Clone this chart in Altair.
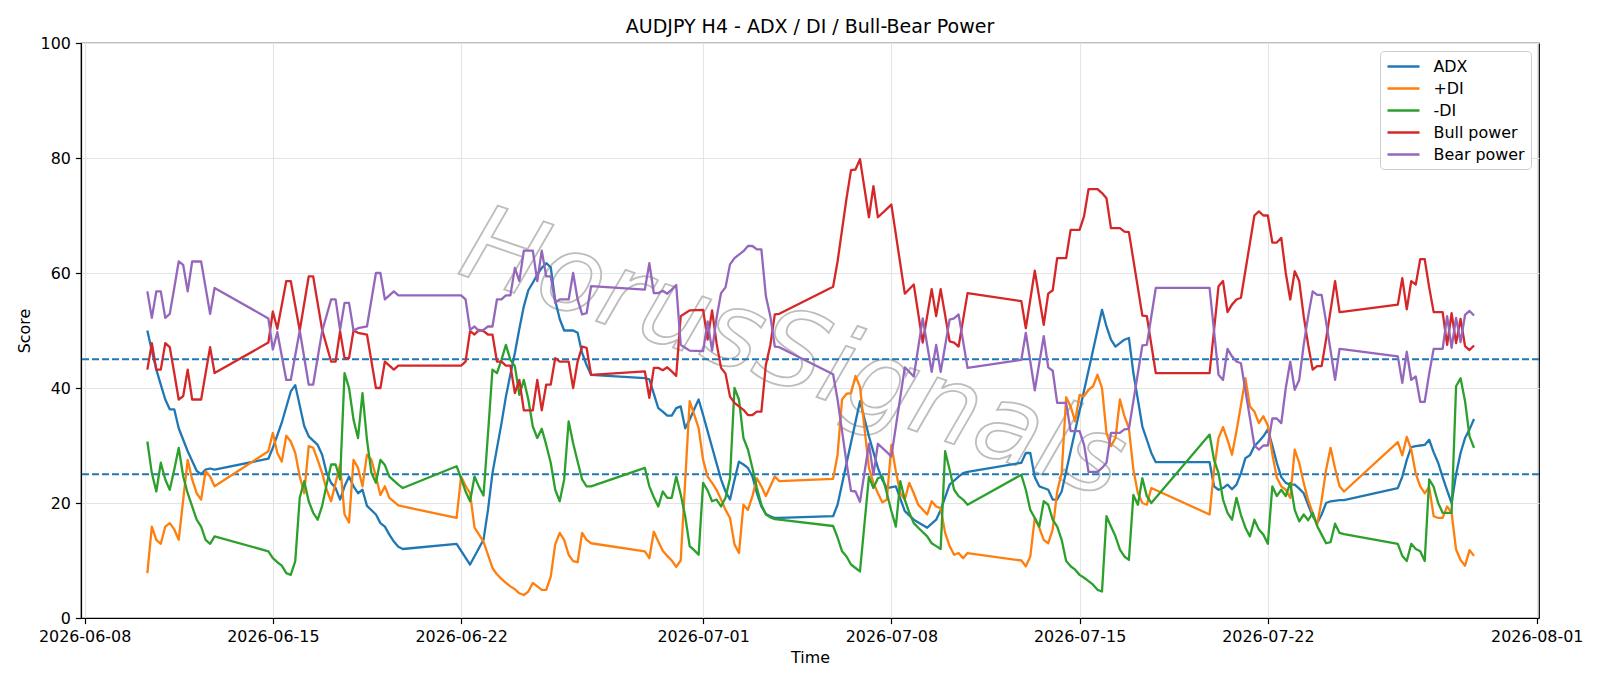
import altair as alt
import pandas as pd

# ---------- data (H4 bars, "MM-DD HH") ----------
adx_pts = [
    ("06-10 08", 50.0), ("06-10 12", 46.5), ("06-10 16", 43.2), ("06-10 20", 40.6), ("06-11 00", 38.0),
    ("06-11 04", 36.3), ("06-11 08", 36.3), ("06-11 12", 33.0), ("06-11 16", 31.0), ("06-11 20", 29.0),
    ("06-12 00", 27.3), ("06-12 04", 25.6), ("06-12 08", 25.0), ("06-12 12", 25.8), ("06-12 16", 26.0),
    ("06-12 20", 25.8), ("06-14 20", 27.7), ("06-15 00", 29.6), ("06-15 08", 34.0), ("06-15 16", 39.4),
    ("06-15 20", 40.5), ("06-16 04", 33.4), ("06-16 08", 31.6), ("06-16 16", 30.1), ("06-16 20", 28.4),
    ("06-17 00", 25.2), ("06-17 04", 23.5), ("06-17 08", 22.6), ("06-17 12", 20.6), ("06-17 16", 22.9),
    ("06-17 20", 24.6), ("06-18 00", 22.9), ("06-18 04", 21.7), ("06-18 08", 22.3), ("06-18 12", 19.5),
    ("06-18 20", 18.0), ("06-19 00", 16.5), ("06-19 04", 15.9), ("06-19 08", 14.5), ("06-19 12", 13.3),
    ("06-19 16", 12.4), ("06-19 20", 12.0), ("06-21 20", 12.9), ("06-22 08", 9.3), ("06-22 20", 13.6),
    ("06-23 00", 18.8), ("06-23 04", 25.2), ("06-23 08", 29.5), ("06-23 12", 33.8), ("06-23 16", 38.5),
    ("06-23 20", 42.4), ("06-24 00", 46.1), ("06-24 04", 50.3), ("06-24 08", 54.2), ("06-24 12", 57.0),
    ("06-24 16", 58.3), ("06-24 20", 59.7), ("06-25 00", 60.9), ("06-25 04", 61.7), ("06-25 08", 61.0),
    ("06-25 12", 55.2), ("06-25 16", 52.0), ("06-25 20", 50.0), ("06-26 04", 50.0), ("06-26 08", 49.6),
    ("06-26 12", 46.1), ("06-26 16", 44.0), ("06-26 20", 42.3), ("06-28 20", 41.7), ("06-29 00", 41.5),
    ("06-29 08", 36.5), ("06-29 12", 35.9), ("06-29 16", 35.2), ("06-29 20", 35.2), ("06-30 00", 36.5),
    ("06-30 04", 36.8), ("06-30 08", 33.0), ("06-30 12", 34.5), ("06-30 16", 36.3), ("06-30 20", 38.0),
    ("07-01 00", 35.3), ("07-01 04", 32.5), ("07-01 08", 29.7), ("07-01 12", 26.9), ("07-01 16", 24.1),
    ("07-01 20", 22.0), ("07-02 00", 20.6), ("07-02 04", 24.0), ("07-02 08", 27.2), ("07-02 12", 26.7),
    ("07-02 16", 26.1), ("07-02 20", 24.6), ("07-03 00", 21.7), ("07-03 04", 19.4), ("07-03 08", 18.1),
    ("07-03 12", 17.7), ("07-03 16", 17.4), ("07-03 20", 17.4), ("07-05 20", 17.7), ("07-06 00", 19.7),
    ("07-06 20", 37.7), ("07-07 04", 31.6), ("07-07 12", 26.1), ("07-07 16", 24.0), ("07-07 20", 22.6),
    ("07-08 04", 22.9), ("07-08 12", 18.6), ("07-08 20", 17.1), ("07-09 08", 15.7), ("07-09 16", 17.1),
    ("07-09 20", 18.8), ("07-10 04", 23.2), ("07-10 12", 24.6), ("07-10 16", 25.2), ("07-10 20", 25.4),
    ("07-12 20", 27.0), ("07-13 00", 28.7), ("07-13 04", 28.7), ("07-13 08", 24.5), ("07-13 12", 22.9),
    ("07-13 16", 22.6), ("07-13 20", 22.3), ("07-14 00", 20.6), ("07-14 04", 20.6), ("07-14 08", 22.0),
    ("07-15 20", 53.6), ("07-16 00", 50.7), ("07-16 04", 48.4), ("07-16 08", 47.2), ("07-16 12", 47.8),
    ("07-16 16", 48.4), ("07-16 20", 48.7), ("07-17 00", 42.6), ("07-17 04", 38.0), ("07-17 08", 33.3),
    ("07-17 12", 31.0), ("07-17 16", 28.7), ("07-17 20", 27.1), ("07-19 20", 27.1), ("07-20 00", 22.9),
    ("07-20 04", 22.3), ("07-20 08", 22.6), ("07-20 12", 23.2), ("07-20 16", 22.4), ("07-20 20", 23.2),
    ("07-21 00", 25.2), ("07-21 04", 27.8), ("07-21 08", 28.3), ("07-21 12", 29.9), ("07-21 16", 30.7),
    ("07-21 20", 31.6), ("07-22 00", 32.8), ("07-22 04", 30.0), ("07-22 08", 27.0), ("07-22 12", 24.5),
    ("07-22 16", 23.5), ("07-22 20", 23.2), ("07-23 00", 23.2), ("07-23 04", 22.5), ("07-23 08", 21.7),
    ("07-23 12", 19.7), ("07-23 16", 17.7), ("07-23 20", 16.5), ("07-24 00", 18.0), ("07-24 04", 20.0),
    ("07-24 08", 20.3), ("07-24 16", 20.5), ("07-24 20", 20.5), ("07-26 20", 22.6), ("07-27 00", 24.6),
    ("07-27 04", 27.5), ("07-27 08", 29.7), ("07-27 12", 29.9), ("07-27 16", 30.0), ("07-27 20", 30.1),
    ("07-28 00", 31.0), ("07-28 04", 28.8), ("07-28 08", 27.0), ("07-28 12", 24.5), ("07-28 16", 22.2),
    ("07-28 20", 20.0), ("07-29 00", 25.0), ("07-29 04", 28.7), ("07-29 08", 31.3), ("07-29 12", 32.8),
    ("07-29 16", 34.6),
]

pdi_pts = [
    ("06-10 08", 7.8), ("06-10 12", 15.9), ("06-10 16", 13.6), ("06-10 20", 12.9), ("06-11 00", 15.9),
    ("06-11 04", 16.5), ("06-11 08", 15.4), ("06-11 12", 13.6), ("06-11 20", 27.5), ("06-12 00", 24.1),
    ("06-12 04", 21.7), ("06-12 08", 20.6), ("06-12 12", 25.5), ("06-12 16", 24.6), ("06-12 20", 22.9),
    ("06-14 20", 29.0), ("06-15 00", 32.2), ("06-15 04", 28.7), ("06-15 08", 27.2), ("06-15 12", 31.7),
    ("06-15 16", 30.7), ("06-15 20", 28.7), ("06-16 00", 24.6), ("06-16 04", 21.7), ("06-16 08", 29.9),
    ("06-16 12", 29.6), ("06-16 16", 27.5), ("06-16 20", 25.2), ("06-17 00", 22.3), ("06-17 04", 20.3),
    ("06-17 08", 23.5), ("06-17 12", 26.7), ("06-17 16", 18.0), ("06-17 20", 16.6), ("06-18 00", 27.5),
    ("06-18 04", 26.1), ("06-18 08", 22.9), ("06-18 12", 28.4), ("06-18 16", 27.5), ("06-18 20", 24.6),
    ("06-19 00", 21.4), ("06-19 04", 22.9), ("06-19 08", 20.9), ("06-19 16", 19.6), ("06-19 20", 19.4),
    ("06-21 20", 17.4), ("06-22 00", 24.6), ("06-22 04", 23.0), ("06-22 08", 21.7), ("06-22 12", 15.7),
    ("06-22 16", 14.5), ("06-22 20", 13.3), ("06-23 00", 11.0), ("06-23 04", 8.7), ("06-23 08", 7.6),
    ("06-23 12", 6.8), ("06-23 16", 6.1), ("06-23 20", 5.5), ("06-24 00", 5.0), ("06-24 04", 4.3),
    ("06-24 08", 4.0), ("06-24 12", 4.6), ("06-24 16", 6.1), ("06-24 20", 5.5), ("06-25 00", 4.9),
    ("06-25 04", 4.9), ("06-25 08", 7.2), ("06-25 12", 12.8), ("06-25 16", 14.8), ("06-25 20", 13.6),
    ("06-26 00", 11.0), ("06-26 04", 9.9), ("06-26 08", 9.7), ("06-26 12", 14.8), ("06-26 16", 13.6),
    ("06-26 20", 13.0), ("06-28 20", 11.6), ("06-29 00", 10.4), ("06-29 04", 15.0), ("06-29 08", 13.3),
    ("06-29 12", 11.7), ("06-29 16", 10.8), ("06-29 20", 10.0), ("06-30 00", 8.9), ("06-30 04", 10.0),
    ("06-30 12", 37.7), ("06-30 16", 35.4), ("06-30 20", 33.0), ("07-01 00", 27.5), ("07-01 04", 24.6),
    ("07-01 08", 23.5), ("07-01 12", 22.3), ("07-01 16", 20.6), ("07-01 20", 18.8), ("07-02 00", 17.4),
    ("07-02 04", 12.8), ("07-02 08", 11.3), ("07-02 12", 19.7), ("07-02 16", 18.8), ("07-02 20", 21.2),
    ("07-03 00", 24.3), ("07-03 04", 22.9), ("07-03 08", 21.2), ("07-03 12", 22.9), ("07-03 16", 24.6),
    ("07-03 20", 23.8), ("07-05 20", 24.2), ("07-06 00", 28.4), ("07-06 04", 38.0), ("07-06 08", 39.0),
    ("07-06 12", 39.1), ("07-06 16", 42.1), ("07-06 20", 40.2), ("07-07 00", 33.0), ("07-07 04", 26.1),
    ("07-07 08", 23.5), ("07-07 12", 21.7), ("07-07 16", 20.1), ("07-07 20", 20.6), ("07-08 00", 30.1),
    ("07-08 04", 25.5), ("07-08 08", 21.7), ("07-08 12", 20.6), ("07-08 16", 23.5), ("07-08 20", 21.7),
    ("07-09 00", 19.7), ("07-09 08", 18.0), ("07-09 12", 20.3), ("07-09 16", 19.4), ("07-09 20", 19.1),
    ("07-10 00", 14.8), ("07-10 04", 12.5), ("07-10 08", 11.0), ("07-10 12", 11.3), ("07-10 16", 10.4),
    ("07-10 20", 11.3), ("07-12 20", 10.0), ("07-13 00", 9.0), ("07-13 04", 10.7), ("07-13 08", 17.4),
    ("07-13 12", 15.7), ("07-13 16", 13.6), ("07-13 20", 13.0), ("07-14 00", 15.4), ("07-14 04", 22.0),
    ("07-14 08", 25.2), ("07-14 12", 38.4), ("07-14 16", 36.8), ("07-14 20", 34.2), ("07-15 00", 38.8),
    ("07-15 04", 38.6), ("07-15 08", 39.7), ("07-15 12", 40.3), ("07-15 16", 42.3), ("07-15 20", 40.0),
    ("07-16 00", 32.2), ("07-16 04", 29.9), ("07-16 08", 31.3), ("07-16 12", 38.0), ("07-16 16", 35.1),
    ("07-16 20", 33.0), ("07-17 00", 25.8), ("07-17 04", 21.7), ("07-17 08", 20.0), ("07-17 12", 19.7),
    ("07-17 16", 22.6), ("07-19 20", 18.0), ("07-20 00", 25.8), ("07-20 04", 31.3), ("07-20 08", 33.2),
    ("07-20 12", 31.0), ("07-20 16", 28.4), ("07-20 20", 32.5), ("07-21 00", 37.0), ("07-21 04", 41.7),
    ("07-21 08", 36.8), ("07-21 12", 35.9), ("07-21 16", 33.9), ("07-21 20", 35.1), ("07-22 00", 33.5),
    ("07-22 04", 28.5), ("07-22 08", 24.4), ("07-22 12", 22.9), ("07-22 16", 22.3), ("07-22 20", 20.9),
    ("07-23 00", 29.3), ("07-23 04", 27.0), ("07-23 08", 23.5), ("07-23 12", 20.5), ("07-23 16", 18.3),
    ("07-23 20", 16.2), ("07-24 00", 20.5), ("07-24 04", 25.8), ("07-24 08", 29.6), ("07-24 12", 26.0),
    ("07-24 16", 22.9), ("07-24 20", 22.0), ("07-26 20", 30.6), ("07-27 00", 28.3), ("07-27 04", 31.5),
    ("07-27 08", 29.3), ("07-27 12", 25.1), ("07-27 16", 22.9), ("07-27 20", 21.7), ("07-28 00", 22.8),
    ("07-28 04", 17.7), ("07-28 08", 17.4), ("07-28 12", 17.4), ("07-28 16", 19.4), ("07-28 20", 18.3),
    ("07-29 00", 11.9), ("07-29 04", 10.1), ("07-29 08", 9.1), ("07-29 12", 11.8), ("07-29 16", 10.8),
]

mdi_pts = [
    ("06-10 08", 30.7), ("06-10 12", 25.2), ("06-10 16", 22.0), ("06-10 20", 27.0), ("06-11 00", 24.1),
    ("06-11 04", 22.3), ("06-11 08", 25.8), ("06-11 12", 29.6), ("06-11 16", 24.6), ("06-11 20", 21.7),
    ("06-12 00", 19.4), ("06-12 04", 17.1), ("06-12 08", 15.9), ("06-12 12", 13.6), ("06-12 16", 12.9),
    ("06-12 20", 14.2), ("06-14 20", 11.6), ("06-15 00", 10.4), ("06-15 04", 9.7), ("06-15 08", 9.1),
    ("06-15 12", 7.8), ("06-15 16", 7.5), ("06-15 20", 9.9), ("06-16 00", 20.9), ("06-16 04", 23.8),
    ("06-16 08", 20.3), ("06-16 12", 18.3), ("06-16 16", 17.1), ("06-16 20", 19.5), ("06-17 00", 23.2),
    ("06-17 04", 26.7), ("06-17 08", 26.7), ("06-17 12", 24.1), ("06-17 16", 42.6), ("06-17 20", 40.0),
    ("06-18 00", 34.5), ("06-18 04", 31.3), ("06-18 08", 39.1), ("06-18 12", 31.0), ("06-18 16", 25.2),
    ("06-18 20", 23.5), ("06-19 00", 27.5), ("06-19 04", 26.6), ("06-19 08", 24.6), ("06-19 12", 23.9),
    ("06-19 16", 23.2), ("06-19 20", 22.6), ("06-21 20", 26.4), ("06-22 00", 24.3), ("06-22 04", 22.0),
    ("06-22 08", 20.3), ("06-22 12", 24.6), ("06-22 16", 22.8), ("06-22 20", 21.3), ("06-23 00", 32.0),
    ("06-23 04", 43.2), ("06-23 08", 42.6), ("06-23 12", 44.9), ("06-23 16", 47.5), ("06-23 20", 44.9),
    ("06-24 00", 43.8), ("06-24 04", 38.8), ("06-24 08", 41.4), ("06-24 12", 38.0), ("06-24 16", 33.3),
    ("06-24 20", 31.3), ("06-25 00", 32.9), ("06-25 04", 30.1), ("06-25 08", 27.0), ("06-25 12", 22.3),
    ("06-25 16", 20.3), ("06-25 20", 24.1), ("06-26 00", 34.2), ("06-26 04", 30.4), ("06-26 08", 27.2),
    ("06-26 12", 24.1), ("06-26 16", 22.9), ("06-26 20", 22.9), ("06-28 20", 26.1), ("06-29 00", 22.9),
    ("06-29 04", 21.0), ("06-29 08", 19.4), ("06-29 12", 22.0), ("06-29 16", 20.9), ("06-29 20", 20.9),
    ("06-30 00", 24.6), ("06-30 04", 21.5), ("06-30 08", 17.7), ("06-30 12", 12.5), ("06-30 16", 11.8),
    ("06-30 20", 11.0), ("07-01 00", 23.5), ("07-01 04", 22.2), ("07-01 08", 20.3), ("07-01 12", 20.6),
    ("07-01 16", 19.4), ("07-01 20", 20.9), ("07-02 00", 24.3), ("07-02 04", 40.0), ("07-02 08", 38.0),
    ("07-02 12", 31.3), ("07-02 16", 29.3), ("07-02 20", 26.1), ("07-03 00", 22.6), ("07-03 04", 19.7),
    ("07-03 08", 18.0), ("07-03 12", 17.5), ("07-03 16", 17.2), ("07-03 20", 17.1), ("07-05 20", 16.0),
    ("07-06 00", 14.0), ("07-06 04", 11.6), ("07-06 08", 10.7), ("07-06 12", 9.3), ("07-06 16", 8.7),
    ("07-06 20", 8.1), ("07-07 04", 24.6), ("07-07 08", 22.6), ("07-07 12", 24.3), ("07-07 16", 24.6),
    ("07-07 20", 21.7), ("07-08 00", 18.6), ("07-08 04", 15.9), ("07-08 08", 23.8), ("07-08 12", 20.6),
    ("07-08 16", 18.3), ("07-08 20", 16.5), ("07-09 00", 15.7), ("07-09 08", 14.2), ("07-09 12", 13.0),
    ("07-09 16", 12.5), ("07-09 20", 12.0), ("07-10 00", 29.0), ("07-10 04", 25.8), ("07-10 08", 22.3),
    ("07-10 12", 21.2), ("07-10 16", 20.6), ("07-10 20", 19.7), ("07-12 20", 24.9), ("07-13 00", 22.3),
    ("07-13 04", 18.8), ("07-13 08", 17.4), ("07-13 12", 15.9), ("07-13 16", 20.3), ("07-13 20", 19.7),
    ("07-14 00", 17.1), ("07-14 04", 15.9), ("07-14 08", 13.6), ("07-14 12", 9.9), ("07-14 16", 9.0),
    ("07-14 20", 8.4), ("07-15 00", 7.5), ("07-15 04", 7.0), ("07-15 08", 6.4), ("07-15 12", 5.8),
    ("07-15 16", 4.9), ("07-15 20", 4.6), ("07-16 00", 17.7), ("07-16 04", 15.9), ("07-16 08", 14.2),
    ("07-16 12", 11.9), ("07-16 16", 10.7), ("07-16 20", 10.1), ("07-17 00", 21.4), ("07-17 04", 19.7),
    ("07-17 08", 24.3), ("07-17 12", 21.2), ("07-17 16", 20.0), ("07-19 20", 31.9), ("07-20 00", 27.5),
    ("07-20 04", 25.2), ("07-20 08", 20.6), ("07-20 12", 18.3), ("07-20 16", 17.1), ("07-20 20", 20.9),
    ("07-21 00", 17.9), ("07-21 04", 15.7), ("07-21 08", 14.2), ("07-21 12", 17.1), ("07-21 16", 15.4),
    ("07-21 20", 14.5), ("07-22 00", 12.9), ("07-22 04", 22.9), ("07-22 08", 21.2), ("07-22 12", 22.3),
    ("07-22 16", 21.2), ("07-22 20", 23.5), ("07-23 00", 18.8), ("07-23 04", 16.8), ("07-23 08", 18.0),
    ("07-23 12", 17.0), ("07-23 16", 18.3), ("07-23 20", 16.0), ("07-24 00", 14.5), ("07-24 04", 13.0),
    ("07-24 08", 13.2), ("07-24 12", 16.4), ("07-24 16", 14.8), ("07-24 20", 14.6), ("07-26 20", 12.9),
    ("07-27 00", 10.8), ("07-27 04", 9.9), ("07-27 08", 12.9), ("07-27 12", 12.0), ("07-27 16", 11.6),
    ("07-27 20", 9.9), ("07-28 00", 24.1), ("07-28 04", 22.8), ("07-28 08", 20.0), ("07-28 12", 18.3),
    ("07-28 16", 18.3), ("07-28 20", 18.3), ("07-29 00", 40.3), ("07-29 04", 41.7), ("07-29 08", 37.7),
    ("07-29 12", 31.6), ("07-29 16", 29.6),
]

# (time, bull power, bear power)
power_pts = [
    ("06-10 08", 43.2, 56.8), ("06-10 12", 47.8, 52.2), ("06-10 16", 43.2, 56.8), ("06-10 20", 43.2, 56.8),
    ("06-11 00", 47.8, 52.2), ("06-11 04", 47.1, 52.9), ("06-11 08", 42.6, 57.4), ("06-11 12", 38.0, 62.0),
    ("06-11 16", 38.6, 61.4), ("06-11 20", 43.2, 56.8), ("06-12 00", 38.0, 62.0), ("06-12 08", 38.0, 62.0),
    ("06-12 16", 47.1, 52.9), ("06-12 20", 42.6, 57.4), ("06-14 20", 47.9, 52.1), ("06-15 00", 53.3, 46.7),
    ("06-15 04", 50.3, 49.7), ("06-15 12", 58.6, 41.4), ("06-15 16", 58.6, 41.4), ("06-16 00", 50.0, 50.0),
    ("06-16 08", 59.4, 40.6), ("06-16 12", 59.4, 40.6), ("06-16 20", 50.1, 49.9), ("06-17 04", 44.6, 55.4),
    ("06-17 08", 44.6, 55.4), ("06-17 12", 49.9, 50.1), ("06-17 16", 45.2, 54.8), ("06-17 20", 45.2, 54.8),
    ("06-18 00", 50.0, 50.0), ("06-18 04", 49.6, 50.4), ("06-18 12", 49.3, 50.7), ("06-18 20", 40.0, 60.0),
    ("06-19 00", 40.0, 60.0), ("06-19 04", 44.6, 55.4), ("06-19 12", 43.2, 56.8), ("06-19 16", 43.9, 56.1),
    ("06-21 20", 43.9, 56.1), ("06-22 00", 43.9, 56.1), ("06-22 04", 44.6, 55.4), ("06-22 08", 49.9, 50.1),
    ("06-22 12", 49.3, 50.7), ("06-22 16", 50.1, 49.9), ("06-22 20", 49.9, 50.1), ("06-23 00", 49.3, 50.7),
    ("06-23 04", 49.3, 50.7), ("06-23 08", 44.6, 55.4), ("06-23 12", 44.6, 55.4), ("06-23 16", 43.9, 56.1),
    ("06-23 20", 43.9, 56.1), ("06-24 00", 39.1, 60.9), ("06-24 04", 41.4, 58.6), ("06-24 08", 36.1, 63.9),
    ("06-24 16", 36.1, 63.9), ("06-24 20", 41.4, 58.6), ("06-25 00", 36.1, 63.9), ("06-25 04", 40.6, 59.4),
    ("06-25 08", 40.6, 59.4), ("06-25 12", 45.2, 54.8), ("06-25 16", 44.6, 55.4), ("06-26 00", 44.6, 55.4),
    ("06-26 04", 40.0, 60.0), ("06-26 08", 44.6, 55.4), ("06-26 12", 47.2, 52.8), ("06-26 16", 47.0, 53.0),
    ("06-26 20", 42.3, 57.7), ("06-28 20", 42.9, 57.1), ("06-29 00", 38.3, 61.7), ("06-29 04", 43.5, 56.5),
    ("06-29 08", 43.5, 56.5), ("06-29 12", 43.1, 56.9), ("06-29 16", 43.6, 56.4), ("06-29 20", 42.9, 57.1),
    ("06-30 00", 42.1, 57.9), ("06-30 04", 52.5, 47.5), ("06-30 08", 53.0, 47.0), ("06-30 12", 53.5, 46.5),
    ("07-01 00", 53.6, 46.4), ("07-01 04", 48.4, 51.6), ("07-01 08", 53.5, 46.5), ("07-01 12", 47.8, 52.2),
    ("07-01 16", 43.5, 56.5), ("07-01 20", 42.5, 57.5), ("07-02 00", 38.5, 61.5), ("07-02 04", 37.4, 62.6),
    ("07-02 08", 36.8, 63.2), ("07-02 12", 36.2, 63.8), ("07-02 16", 35.3, 64.7), ("07-02 20", 35.3, 64.7),
    ("07-03 00", 35.9, 64.1), ("07-03 04", 35.9, 64.1), ("07-03 08", 44.0, 56.0), ("07-03 12", 47.5, 52.5),
    ("07-03 16", 52.8, 47.2), ("07-03 20", 52.9, 47.1), ("07-05 20", 57.6, 42.4), ("07-06 00", 62.0, 38.0),
    ("07-06 04", 67.5, 32.5), ("07-06 08", 73.0, 27.0), ("07-06 12", 77.9, 22.1), ("07-06 16", 78.0, 22.0),
    ("07-06 20", 79.8, 20.2), ("07-07 04", 69.7, 30.3), ("07-07 08", 75.1, 24.9), ("07-07 12", 69.7, 30.3),
    ("07-08 00", 71.9, 28.1), ("07-08 12", 56.4, 43.6), ("07-08 20", 58.0, 42.0), ("07-09 04", 47.9, 52.1),
    ("07-09 12", 57.2, 42.8), ("07-09 16", 52.5, 47.5), ("07-09 20", 57.2, 42.8), ("07-10 04", 48.1, 51.9),
    ("07-10 08", 47.9, 52.1), ("07-10 12", 47.2, 52.8), ("07-10 20", 56.5, 43.5), ("07-12 20", 55.1, 44.9),
    ("07-13 00", 50.4, 49.6), ("07-13 08", 60.4, 39.6), ("07-13 16", 51.0, 49.0), ("07-13 20", 56.4, 43.6),
    ("07-14 00", 57.0, 43.0), ("07-14 04", 62.6, 37.4), ("07-14 12", 62.6, 37.4), ("07-14 16", 67.5, 32.5),
    ("07-15 00", 67.5, 32.5), ("07-15 04", 69.9, 30.1), ("07-15 08", 74.6, 25.4), ("07-15 16", 74.6, 25.4),
    ("07-15 20", 73.9, 26.1), ("07-16 00", 73.0, 27.0), ("07-16 04", 67.8, 32.2), ("07-16 12", 67.8, 32.2),
    ("07-16 16", 67.2, 32.8), ("07-16 20", 67.1, 32.9), ("07-17 08", 52.6, 47.4), ("07-17 12", 52.5, 47.5),
    ("07-17 20", 42.6, 57.4), ("07-19 20", 42.6, 57.4), ("07-20 00", 50.1, 49.9), ("07-20 04", 57.7, 42.3),
    ("07-20 08", 58.6, 41.4), ("07-20 12", 53.2, 46.8), ("07-20 16", 54.5, 45.5), ("07-20 20", 55.4, 44.6),
    ("07-21 00", 55.7, 44.3), ("07-21 08", 65.2, 34.8), ("07-21 12", 70.0, 30.0), ("07-21 16", 70.7, 29.3),
    ("07-21 20", 70.0, 30.0), ("07-22 00", 70.0, 30.0), ("07-22 04", 65.3, 34.7), ("07-22 08", 65.3, 34.7),
    ("07-22 12", 66.1, 33.9), ("07-22 16", 60.0, 40.0), ("07-22 20", 55.4, 44.6), ("07-23 00", 60.3, 39.7),
    ("07-23 04", 58.6, 41.4), ("07-23 08", 52.5, 47.5), ("07-23 12", 47.5, 52.5), ("07-23 16", 43.2, 56.8),
    ("07-23 20", 43.8, 56.2), ("07-24 00", 43.8, 56.2), ("07-24 04", 48.5, 51.5), ("07-24 08", 53.5, 46.5),
    ("07-24 12", 58.6, 41.4), ("07-24 16", 53.2, 46.8), ("07-24 20", 53.3, 46.7), ("07-26 20", 54.5, 45.5),
    ("07-27 00", 59.1, 40.9), ("07-27 04", 53.7, 46.3), ("07-27 08", 58.6, 41.4), ("07-27 12", 58.0, 42.0),
    ("07-27 16", 62.4, 37.6), ("07-27 20", 62.4, 37.6), ("07-28 00", 57.5, 42.5), ("07-28 04", 53.2, 46.8),
    ("07-28 12", 53.2, 46.8), ("07-28 16", 47.5, 52.5), ("07-28 20", 53.0, 47.0), ("07-29 00", 47.8, 52.2),
    ("07-29 04", 52.0, 48.0), ("07-29 08", 47.3, 52.7), ("07-29 12", 46.6, 53.4), ("07-29 16", 47.4, 52.6),
]

series_names = ["ADX", "+DI", "-DI", "Bull power", "Bear power"]
series_colors = ["#1f77b4", "#ff7f0e", "#2ca02c", "#d62728", "#9467bd"]
threshold_levels = [45, 25]
tick_dates = [(2026, 6, 8), (2026, 6, 15), (2026, 6, 22), (2026, 7, 1),
              (2026, 7, 8), (2026, 7, 15), (2026, 7, 22), (2026, 8, 1)]
y_ticks = [0, 20, 40, 60, 80, 100]
title_text = "AUDJPY H4 - ADX / DI / Bull-Bear Power"
watermark_text = "HorusSignals"


def to_time(s):
    return pd.Timestamp("2026-" + s + ":00")


frames = []
for name, pts in [("ADX", adx_pts), ("+DI", pdi_pts), ("-DI", mdi_pts)]:
    frames.append(pd.DataFrame({
        "time": [to_time(t) for t, _ in pts],
        "value": [v for _, v in pts],
        "series": name,
        "idx": list(range(len(pts))),
    }))
frames.append(pd.DataFrame({
    "time": [to_time(t) for t, _, _ in power_pts],
    "value": [b for _, b, _ in power_pts],
    "series": "Bull power",
    "idx": list(range(len(power_pts))),
}))
frames.append(pd.DataFrame({
    "time": [to_time(t) for t, _, _ in power_pts],
    "value": [b for _, _, b in power_pts],
    "series": "Bear power",
    "idx": list(range(len(power_pts))),
}))
df = pd.concat(frames, ignore_index=True)

FONT = "DejaVu Sans"
FS = 15.9  # 10pt at ~114 dpi

x_scale = alt.Scale(domain=[alt.DateTime(year=2026, month=6, date=7, hours=20, minutes=47),
                            alt.DateTime(year=2026, month=8, date=1, hours=2)])
y_scale = alt.Scale(domain=[0, 100], nice=False, zero=False)

x_axis = alt.Axis(
    values=[alt.DateTime(year=y, month=m, date=d) for y, m, d in tick_dates],
    format="%Y-%m-%d", title="Time", labelFlush=False, labelOverlap=False,
)
y_axis = alt.Axis(values=y_ticks, title="Score")

lines = alt.Chart(df).mark_line(strokeWidth=2.3, strokeJoin="round", clip=True).encode(
    x=alt.X("time:T", scale=x_scale, axis=x_axis),
    y=alt.Y("value:Q", scale=y_scale, axis=y_axis),
    color=alt.Color("series:N",
                    scale=alt.Scale(domain=series_names, range=series_colors),
                    sort=series_names,
                    legend=alt.Legend(title=None, orient="top-right", offset=8,
                                      fillColor="white", strokeColor="#cccccc",
                                      cornerRadius=4, padding=6,
                                      labelFontSize=FS, labelFont=FONT, labelColor="black",
                                      symbolType="M-1,0L3,0", symbolStrokeWidth=2.3,
                                      symbolSize=256, rowPadding=4, labelOffset=28.5)),
    order="idx:Q",
)

rules = alt.Chart(pd.DataFrame({"level": threshold_levels})).mark_rule(
    color="#1f77b4", strokeDash=[7, 3], strokeWidth=1.8
).encode(y=alt.Y("level:Q", scale=y_scale))

watermark = alt.Chart(pd.DataFrame({"label": [watermark_text]})).mark_text(
    font=FONT, fontSize=106, fontStyle="italic", angle=19,
    fill="#ffffff", fillOpacity=0, stroke="#bdbdbd", strokeWidth=1.8,
    align="center", baseline="middle",
).encode(x=alt.value(712), y=alt.value(312), text="label:N")

chart = alt.layer(watermark, rules, lines).properties(
    width=1458, height=575,
    title=alt.Title(title_text, fontSize=19, font=FONT, fontWeight="normal",
                    color="black", offset=-2, frame="group"),
    padding={"left": 81, "top": 43, "right": 61, "bottom": 68},
    autosize=alt.AutoSizeParams(type="none"),
).configure_view(
    stroke="black", strokeWidth=1.2
).configure_axis(
    labelFont=FONT, titleFont=FONT, labelFontSize=FS, titleFontSize=FS,
    labelColor="black", titleColor="black", titleFontWeight="normal",
    tickColor="black", tickSize=5.6, tickWidth=1.2, labelPadding=5,
    domainColor="black", domainWidth=1.2,
    gridColor="#e4e4e4", gridWidth=1.1,
).configure_axisX(titlePadding=5).configure_axisY(titlePadding=8)

chart.save("out.html", embed_options={"renderer": "svg", "actions": False})
